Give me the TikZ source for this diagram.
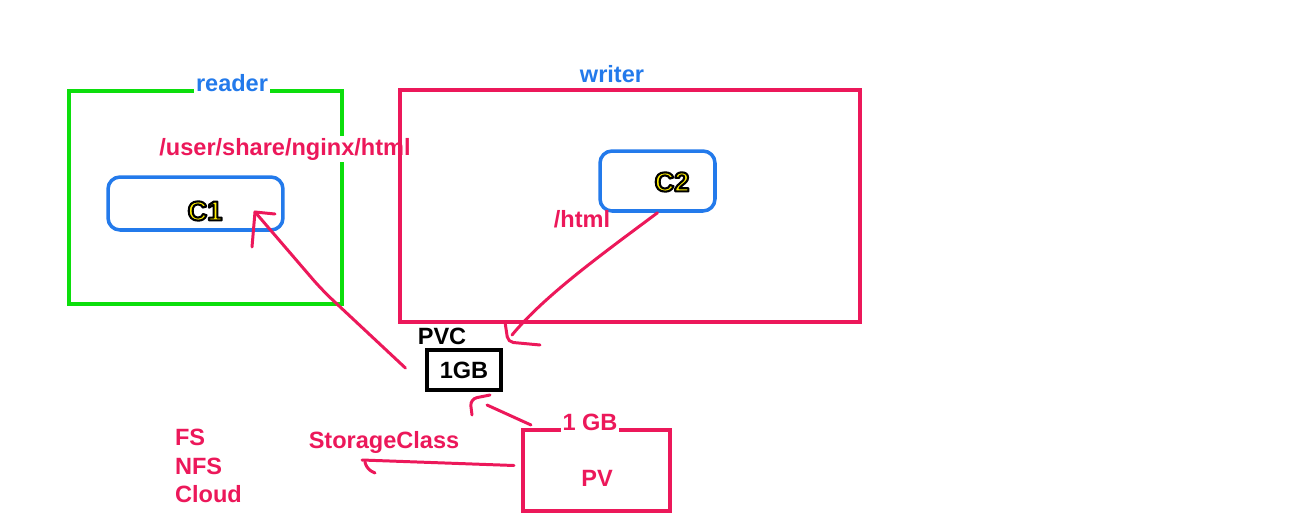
\documentclass[tikz,border=0pt]{standalone}
\usepackage{fontspec}
\setmainfont{Liberation Sans}
\usepackage{tikz}
\usetikzlibrary{calc}

\definecolor{penpink}{RGB}{236,24,90}
\definecolor{boxblue}{RGB}{35,122,235}
\definecolor{boxgreen}{RGB}{12,222,12}
\definecolor{ctryellow}{RGB}{255,240,0}

% yellow name with a black rim (fill and stroke the glyphs)
\newcommand\yelout[1]{%
  \textcolor{ctryellow}{\special{pdf:literal direct 0 0 0 RG 1.2 w 1 j 2 Tr}#1\special{pdf:literal direct 0 Tr 0.4 w}}}

\begin{document}
\begin{tikzpicture}[x=0.02cm,y=-0.02cm,
	lbl/.style={font=\fontsize{13.4}{16.2}\selectfont\bfseries, inner sep=1pt},
	ctrlbl/.style={font=\fontsize{15.5}{18}\selectfont\bfseries, inner sep=1pt},
	pen/.style={draw=penpink, line width=1.7pt, line cap=round, line join=round},
	podbox/.style={draw, line width=2.3pt, inner sep=0pt},
	ctrbox/.style={draw=boxblue, line width=2pt, rounded corners=0.24cm, inner sep=0pt}]
	\useasboundingbox (0,0) rectangle (1308,521);
	
	\node[podbox, draw=boxgreen, minimum width=5.46cm, minimum height=4.26cm] (reader) at (205.5,197.5) {};
	\node[lbl, text=boxblue, fill=white] (readername) at (232,83) {reader};
	\node[ctrbox, minimum width=3.5cm, minimum height=1.06cm] (c1) at (195.5,203.5) {};
	\node[ctrlbl] (c1name) at (205,211) {\yelout{C1}};
	\node[lbl, text=penpink, fill=white] (readerpath) at (285,149) {/user/share/nginx/html};
	
	\node[podbox, draw=penpink, minimum width=9.2cm, minimum height=4.64cm] (writer) at (630,206) {};
	\node[lbl, text=boxblue, fill=white] (writername) at (612,74) {writer};
	\node[ctrbox, minimum width=2.3cm, minimum height=1.2cm] (c2) at (657.5,181) {};
	\node[ctrlbl] (c2name) at (672,182) {\yelout{C2}};
	\node[lbl, text=penpink] (writerpath) at (582,219) {/html};
	
	\node[lbl] (pvcname) at (442,336) {PVC};
	\node[draw, line width=1.8pt, minimum width=1.48cm, minimum height=0.8cm, lbl] (pvc) at (464,370) {1GB};
	
	\node[podbox, draw=penpink, minimum width=2.94cm, minimum height=1.62cm] (pv) at (596.5,470.5) {};
	\node[lbl, text=penpink] (pvname) at (597,478) {PV};
	\node[lbl, text=penpink, fill=white] (pvsize) at (590,422) {1 GB};
	
	\node[lbl, text=penpink] (sclass) at (384,442) {StorageClass};
	\node[lbl, text=penpink, align=left, anchor=west] (backends) at (173,466) {FS\\NFS\\Cloud};
	
	% hand drawn links
	\coordinate (c1tip) at (255,212);
	\coordinate (pvctip) at (487,405);
	\coordinate (sctip) at (362,460);
	\coordinate (c2end) at (512,335);
	\draw[pen, rounded corners=8pt] ($(pvc.west)+(-20,-2)$) -- (322,290) -- (c1tip);
	\draw[pen] (252,247) -- (c1tip) -- (275,214);
	\draw[pen] (c2.south) .. controls (605,252) and (545,295) .. (c2end);
	\draw[pen, rounded corners=3pt] (505,322) -- (508,342) -- (540,345);
	\draw[pen] ($(pv.north west)+(10,-3)$) -- (pvctip);
	\draw[pen, rounded corners=4pt] (472,415) -- (470,399) -- (490,395);
	\draw[pen] ($(pv.west)+(-7,-5)$) -- (sctip);
	\draw[pen, rounded corners=3pt] (365,462) -- (367,469) -- (375,473);
\end{tikzpicture}
\end{document}
